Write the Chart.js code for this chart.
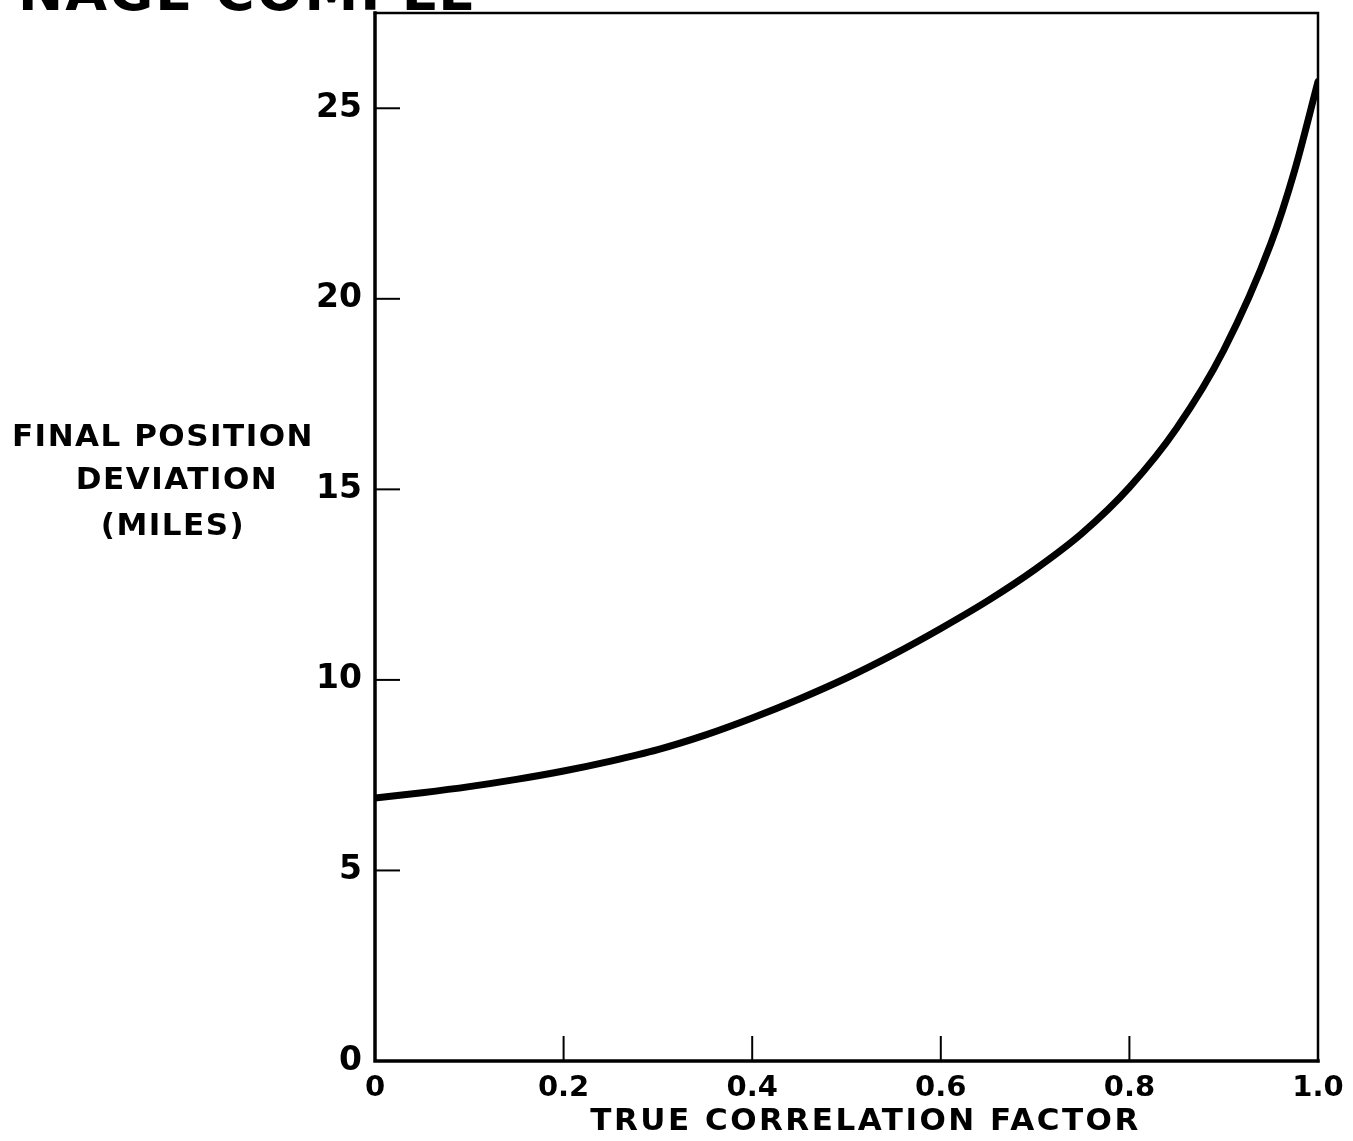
<!DOCTYPE html>
<html>
<head>
<meta charset="utf-8">
<script src="https://cdn.jsdelivr.net/npm/chart.js@4/dist/chart.umd.min.js"></script>
<style>
  html, body { margin: 0; padding: 0; background: #ffffff; }
  #wrap { position: relative; width: 1353px; height: 1141px; }
</style>
</head>
<body>
<div id="wrap"><canvas id="c" width="1353" height="1141"></canvas></div>
<script>
// ---- data ----
const correlation = [0, 0.05, 0.1, 0.15, 0.2, 0.25, 0.3, 0.35, 0.4, 0.45, 0.5, 0.55, 0.6, 0.65, 0.7, 0.75, 0.8, 0.85, 0.9, 0.95, 0.975, 1.0];
const deviation   = [6.9, 7.04, 7.2, 7.39, 7.61, 7.87, 8.17, 8.55, 9.0, 9.5, 10.05, 10.67, 11.35, 12.08, 12.9, 13.85, 15.05, 16.6, 18.65, 21.45, 23.35, 25.7];
const xTicks = [0, 0.2, 0.4, 0.6, 0.8, 1.0];
const xTickLabels = ['0', '0.2', '0.4', '0.6', '0.8', '1.0'];
const yTicks = [0, 5, 10, 15, 20, 25];
const yTickLabels = ['0', '5', '10', '15', '20', '25'];
const xTitle = 'TRUE CORRELATION FACTOR';
const yTitleLines = ['FINAL POSITION', 'DEVIATION', '(MILES)'];
const topText = 'NAGE COMPLE';

const FONT = '"DejaVu Sans", sans-serif';

const framePlugin = {
  id: 'frame',
  afterDraw(chart) {
    const ctx = chart.ctx;
    const a = chart.chartArea;
    const xs = chart.scales.x, ys = chart.scales.y;
    ctx.save();
    ctx.strokeStyle = '#000';
    ctx.lineCap = 'square';
    // left & bottom axes (thick)
    ctx.lineWidth = 3.5;
    ctx.beginPath();
    ctx.moveTo(a.left, a.top); ctx.lineTo(a.left, a.bottom); ctx.lineTo(a.right, a.bottom);
    ctx.stroke();
    // top & right (thinner)
    ctx.lineWidth = 2.5;
    ctx.beginPath();
    ctx.moveTo(a.left, a.top); ctx.lineTo(a.right, a.top); ctx.lineTo(a.right, a.bottom);
    ctx.stroke();
    // inward tick marks
    ctx.lineWidth = 2;
    ctx.lineCap = 'butt';
    yTicks.forEach(v => {
      if (v === 0) return;
      const py = ys.getPixelForValue(v);
      ctx.beginPath(); ctx.moveTo(a.left, py); ctx.lineTo(a.left + 25, py); ctx.stroke();
    });
    xTicks.forEach(v => {
      if (v === 0 || v === 1) return;
      const px = xs.getPixelForValue(v);
      ctx.beginPath(); ctx.moveTo(px, a.bottom); ctx.lineTo(px, a.bottom - 25); ctx.stroke();
    });
    ctx.fillStyle = '#000';
    ctx.textAlign = 'center';
    ctx.textBaseline = 'middle';
    // horizontal y-axis title
    ctx.font = 'bold 31px ' + FONT;
    ctx.letterSpacing = '1.5px';
    const lineXs = [163, 177, 173];
    const lineYs = [438, 481, 527];
    yTitleLines.forEach((t, i) => ctx.fillText(t, lineXs[i], lineYs[i]));
    // x-axis title (spaced lettering)
    ctx.font = 'bold 31px ' + FONT;
    ctx.letterSpacing = '2.5px';
    ctx.fillText(xTitle, (a.left + a.right) / 2 + 19, 1122);
    // clipped heading sliver at top-left
    ctx.letterSpacing = '2px';
    ctx.font = 'bold 54px ' + FONT;
    ctx.textAlign = 'left';
    ctx.textBaseline = 'alphabetic';
    ctx.fillText(topText, 18, 10);
    ctx.restore();
  }
};

new Chart(document.getElementById('c'), {
  type: 'line',
  data: {
    datasets: [{
      data: correlation.map((x, i) => ({ x: x, y: deviation[i] })),
      borderColor: '#000',
      borderWidth: 7,
      pointRadius: 0,
      fill: false,
      cubicInterpolationMode: 'monotone',
      borderCapStyle: 'round'
    }]
  },
  options: {
    responsive: false,
    animation: false,
    devicePixelRatio: 1,
    layout: { padding: { top: 13, right: 35, left: 0, bottom: 0 } },
    plugins: { legend: { display: false }, tooltip: { enabled: false } },
    scales: {
      x: {
        type: 'linear',
        min: 0, max: 1,
        afterBuildTicks: s => { s.ticks = xTicks.map(v => ({ value: v })); },
        afterFit: s => { s.height = 80; s.paddingLeft = 0; s.paddingRight = 0; },
        border: { display: false },
        grid: { display: false, drawTicks: false },
        ticks: {
          color: '#000',
          padding: 10,
          maxRotation: 0,
          autoSkip: false,
          font: { family: FONT, size: 29, weight: 'bold' },
          callback: (v, i) => xTickLabels[i]
        },
        title: { display: false, text: xTitle }
      },
      y: {
        type: 'linear',
        min: 0, max: 27.5,
        afterBuildTicks: s => { s.ticks = yTicks.map(v => ({ value: v })); },
        afterFit: s => { s.width = 375; s.paddingTop = 0; s.paddingBottom = 0; },
        border: { display: false },
        grid: { display: false, drawTicks: false },
        ticks: {
          color: '#000',
          padding: 13,
          autoSkip: false,
          font: { family: FONT, size: 33, weight: 'bold' },
          callback: (v, i) => yTickLabels[i]
        }
      }
    }
  },
  plugins: [framePlugin]
});
</script>
</body>
</html>
